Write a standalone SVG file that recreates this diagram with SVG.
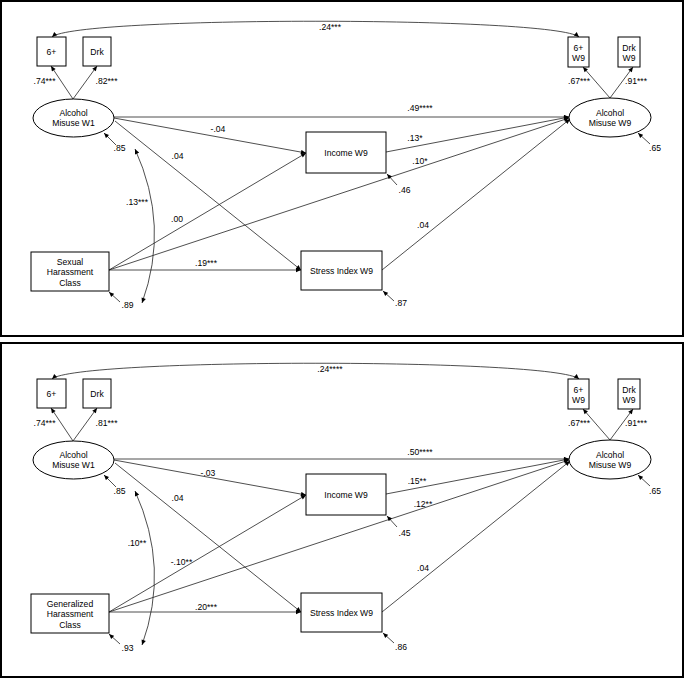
<svg xmlns="http://www.w3.org/2000/svg" width="685" height="679" viewBox="0 0 685 679">
<defs>
<marker id="ah" viewBox="0 0 10 10" refX="10" refY="5" markerWidth="6" markerHeight="5" markerUnits="userSpaceOnUse" orient="auto-start-reverse"><path d="M0,0.5 L10,5 L0,9.5 z" fill="#000"/></marker>
<style>
text{font-family:"Liberation Sans",Arial,sans-serif;font-size:8.6px;fill:#000;text-anchor:middle}
.frame{fill:#fff;stroke:#000;stroke-width:2}
.box{fill:#fff;stroke:#000;stroke-width:1}
.c{fill:none;stroke:#222;stroke-width:0.8}
.a{fill:none;stroke:#222;stroke-width:0.8;marker-end:url(#ah)}
.d{fill:none;stroke:#222;stroke-width:0.8;marker-start:url(#ah);marker-end:url(#ah)}
</style>
</defs>
<rect width="685" height="679" fill="#fff"/>

<!-- TOP PANEL -->
<g id="panel1">
<rect class="frame" x="1" y="1" width="682" height="335"/>
<g id="p1-connectors">
<path class="d" d="M52,37 C75,16 555,16 579,37"/>
<line class="a" x1="73" y1="99" x2="51" y2="66"/>
<line class="a" x1="73" y1="99" x2="97" y2="66"/>
<line class="a" x1="610" y1="98" x2="583" y2="67"/>
<line class="a" x1="610" y1="98" x2="633" y2="67"/>
<line class="a" x1="114" y1="117" x2="569" y2="117"/>
<line class="a" x1="114" y1="118" x2="306" y2="153"/>
<line class="a" x1="115" y1="121" x2="301" y2="270"/>
<line class="a" x1="109" y1="270" x2="306" y2="153"/>
<line class="a" x1="109" y1="270" x2="569" y2="118"/>
<line class="a" x1="109" y1="270" x2="301" y2="270"/>
<line class="a" x1="386" y1="152" x2="569" y2="117"/>
<line class="a" x1="382" y1="270" x2="570" y2="119"/>
<line class="a" x1="116" y1="145" x2="104" y2="133"/>
<line class="a" x1="650" y1="144" x2="638" y2="133"/>
<line class="a" x1="397" y1="185" x2="387" y2="174"/>
<line class="a" x1="394" y1="301" x2="383" y2="291"/>
<line class="a" x1="120" y1="302" x2="109" y2="292"/>
<path class="d" d="M135,149 Q170,226 142,303"/>
</g>
<g id="p1-sixplus"><rect class="box" x="37" y="37" width="29" height="29"/><text x="51.5" y="54.5">6+</text></g>
<g id="p1-drk"><rect class="box" x="83" y="37" width="28" height="29"/><text x="97" y="54.5">Drk</text></g>
<g id="p1-alc-w1"><ellipse class="box" cx="73.5" cy="118" rx="40.5" ry="19"/><text x="73.5" y="116">Alcohol</text><text x="73.5" y="126">Misuse W1</text></g>
<g id="p1-sixplus-w9"><rect class="box" x="568" y="37" width="21" height="30"/><text x="578.5" y="51">6+</text><text x="578.5" y="60.5">W9</text></g>
<g id="p1-drk-w9"><rect class="box" x="618" y="37" width="22" height="30"/><text x="629" y="51">Drk</text><text x="629" y="60.5">W9</text></g>
<g id="p1-alc-w9"><ellipse class="box" cx="610" cy="117.5" rx="41" ry="19.5"/><text x="610" y="116">Alcohol</text><text x="610" y="126">Misuse W9</text></g>
<g id="p1-income"><rect class="box" x="306" y="132" width="80" height="41"/><text x="346" y="155.5">Income W9</text></g>
<g id="p1-stress"><rect class="box" x="301" y="251" width="81" height="39"/><text x="341.5" y="273.5">Stress Index W9</text></g>
<g id="p1-sexual"><rect class="box" x="31" y="252" width="78" height="39"/><text x="70" y="265">Sexual</text><text x="70" y="275">Harassment</text><text x="70" y="285.5">Class</text></g>
<g id="p1-labels">
<text x="330" y="30">.24***</text>
<text x="44.5" y="84">.74***</text>
<text x="106.5" y="84">.82***</text>
<text x="579" y="84">.67***</text>
<text x="636" y="84">.91***</text>
<text x="420" y="111">.49****</text>
<text x="218" y="132">-.04</text>
<text x="177.5" y="159">.04</text>
<text x="119.5" y="151">.85</text>
<text x="137" y="205">.13***</text>
<text x="177" y="222">.00</text>
<text x="206" y="266">.19***</text>
<text x="127.5" y="308">.89</text>
<text x="415" y="141">.13*</text>
<text x="420" y="164">.10*</text>
<text x="404.5" y="193">.46</text>
<text x="423" y="228">.04</text>
<text x="401" y="306">.87</text>
<text x="655" y="151">.65</text>
</g>
</g>

<!-- BOTTOM PANEL -->
<g id="panel2" transform="translate(0,342)">
<rect class="frame" x="1" y="1" width="682" height="334"/>
<g id="p2-connectors">
<path class="d" d="M52,37 C75,16 555,16 579,37"/>
<line class="a" x1="73" y1="99" x2="51" y2="66"/>
<line class="a" x1="73" y1="99" x2="97" y2="66"/>
<line class="a" x1="610" y1="98" x2="583" y2="67"/>
<line class="a" x1="610" y1="98" x2="633" y2="67"/>
<line class="a" x1="114" y1="117" x2="569" y2="117"/>
<line class="a" x1="114" y1="118" x2="306" y2="153"/>
<line class="a" x1="115" y1="121" x2="301" y2="270"/>
<line class="a" x1="109" y1="270" x2="306" y2="153"/>
<line class="a" x1="109" y1="270" x2="569" y2="118"/>
<line class="a" x1="109" y1="270" x2="301" y2="270"/>
<line class="a" x1="386" y1="152" x2="569" y2="117"/>
<line class="a" x1="382" y1="270" x2="570" y2="119"/>
<line class="a" x1="116" y1="145" x2="104" y2="133"/>
<line class="a" x1="650" y1="144" x2="638" y2="133"/>
<line class="a" x1="397" y1="185" x2="387" y2="174"/>
<line class="a" x1="394" y1="301" x2="383" y2="291"/>
<line class="a" x1="120" y1="302" x2="109" y2="292"/>
<path class="d" d="M135,149 Q170,226 142,303"/>
</g>
<g id="p2-sixplus"><rect class="box" x="37" y="37" width="29" height="29"/><text x="51.5" y="54.5">6+</text></g>
<g id="p2-drk"><rect class="box" x="83" y="37" width="28" height="29"/><text x="97" y="54.5">Drk</text></g>
<g id="p2-alc-w1"><ellipse class="box" cx="73.5" cy="118" rx="40.5" ry="19"/><text x="73.5" y="116">Alcohol</text><text x="73.5" y="126">Misuse W1</text></g>
<g id="p2-sixplus-w9"><rect class="box" x="568" y="37" width="21" height="30"/><text x="578.5" y="51">6+</text><text x="578.5" y="60.5">W9</text></g>
<g id="p2-drk-w9"><rect class="box" x="618" y="37" width="22" height="30"/><text x="629" y="51">Drk</text><text x="629" y="60.5">W9</text></g>
<g id="p2-alc-w9"><ellipse class="box" cx="610" cy="117.5" rx="41" ry="19.5"/><text x="610" y="116">Alcohol</text><text x="610" y="126">Misuse W9</text></g>
<g id="p2-income"><rect class="box" x="306" y="132" width="80" height="41"/><text x="346" y="155.5">Income W9</text></g>
<g id="p2-stress"><rect class="box" x="301" y="251" width="81" height="39"/><text x="341.5" y="273.5">Stress Index W9</text></g>
<g id="p2-general"><rect class="box" x="31" y="252" width="78" height="39"/><text x="70" y="265">Generalized</text><text x="70" y="275">Harassment</text><text x="70" y="285.5">Class</text></g>
<g id="p2-labels">
<text x="330" y="30">.24****</text>
<text x="44.5" y="84">.74***</text>
<text x="106.5" y="84">.81***</text>
<text x="579" y="84">.67***</text>
<text x="636" y="84">.91***</text>
<text x="420" y="113">.50****</text>
<text x="208" y="134">-.03</text>
<text x="177.5" y="159">.04</text>
<text x="119.5" y="152">.85</text>
<text x="137" y="204">.10**</text>
<text x="181.5" y="223">-.10**</text>
<text x="206" y="268">.20***</text>
<text x="127.5" y="309">.93</text>
<text x="417" y="142">.15**</text>
<text x="423" y="165">.12**</text>
<text x="404.5" y="194">.45</text>
<text x="423" y="229">.04</text>
<text x="401" y="308">.86</text>
<text x="655" y="152">.65</text>
</g>
</g>
</svg>
